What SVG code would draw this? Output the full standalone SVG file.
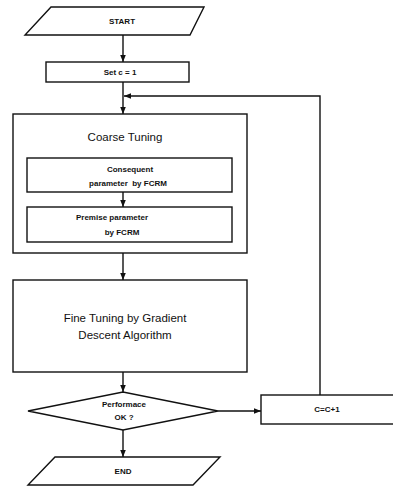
<svg xmlns="http://www.w3.org/2000/svg" width="393" height="487" viewBox="0 0 393 487">
<defs>
<marker id="ah" viewBox="0 0 10 10" refX="10" refY="5" markerWidth="7" markerHeight="7" orient="auto" markerUnits="userSpaceOnUse">
<path d="M0,1 L10,5 L0,9 Z" fill="#111"/>
</marker>
<style>
.s{fill:#fff;stroke:#111;stroke-width:1.4}
.c{fill:none;stroke:#111;stroke-width:1.4}
.b{font-family:"Liberation Sans",Arial,sans-serif;font-weight:bold;font-size:8px;fill:#111;text-anchor:middle}
.n{font-family:"Liberation Sans",Arial,sans-serif;font-size:11.5px;fill:#111;text-anchor:middle}
</style>
</defs>
<rect width="393" height="487" fill="#fff"/>
<g id="start">
<polygon class="s" points="51,7 204,7 190,35 25,35"/>
<text class="b" x="122" y="24">START</text>
</g>
<g id="setc">
<rect class="s" x="46" y="62" width="143" height="20"/>
<text class="b" x="120" y="75">Set c = 1</text>
</g>
<g id="coarse">
<rect class="s" x="13" y="114" width="234" height="139"/>
<text class="n" x="125" y="141">Coarse Tuning</text>
</g>
<g id="consequent">
<rect class="s" x="27" y="158" width="205" height="34"/>
<text class="b" x="130" y="172">Consequent</text>
<text class="b" x="128" y="186" xml:space="preserve">parameter  by FCRM</text>
</g>
<g id="premise">
<rect class="s" x="27" y="207" width="205" height="35"/>
<text class="b" x="112" y="220">Premise parameter</text>
<text class="b" x="122" y="235">by FCRM</text>
</g>
<g id="fine">
<rect class="s" x="13" y="280" width="234" height="92"/>
<text class="n" x="125" y="322">Fine Tuning by Gradient</text>
<text class="n" x="125" y="339">Descent Algorithm</text>
</g>
<g id="decision">
<polygon class="s" points="28,411 123,392 218,411 123,430"/>
<text class="b" x="124" y="407">Performace</text>
<text class="b" x="124" y="420">OK ?</text>
</g>
<g id="incr">
<rect class="s" x="261" y="395" width="140" height="29"/>
<text class="b" x="327" y="412">C=C+1</text>
</g>
<g id="end">
<polygon class="s" points="55,457 220,457 193,485 28,485"/>
<text class="b" x="123" y="474">END</text>
</g>
<g id="connectors">
<line class="c" x1="123" y1="35" x2="123" y2="62" marker-end="url(#ah)"/>
<line class="c" x1="123" y1="82" x2="123" y2="114" marker-end="url(#ah)"/>
<polyline class="c" points="320,395 320,96 124,96" marker-end="url(#ah)"/>
<line class="c" x1="123" y1="192" x2="123" y2="207" marker-end="url(#ah)"/>
<line class="c" x1="123" y1="253" x2="123" y2="280" marker-end="url(#ah)"/>
<line class="c" x1="123" y1="372" x2="123" y2="392" marker-end="url(#ah)"/>
<line class="c" x1="218" y1="411" x2="261" y2="411" marker-end="url(#ah)"/>
<line class="c" x1="123" y1="430" x2="123" y2="457" marker-end="url(#ah)"/>
</g>
</svg>
